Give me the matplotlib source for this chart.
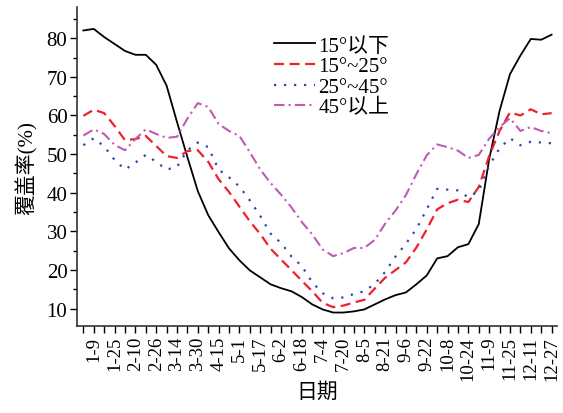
import numpy as np
import matplotlib
matplotlib.use('Agg')
import matplotlib.pyplot as plt
from matplotlib.ticker import MultipleLocator

plt.rcParams['font.family'] = ['Liberation Serif', 'Noto Sans CJK SC']
plt.rcParams['mathtext.fontset'] = 'stix'

# 8-day composite dates
dates = ['1-1', '1-9', '1-17', '1-25', '2-2', '2-10', '2-18', '2-26', '3-6', '3-14',
         '3-22', '3-30', '4-7', '4-15', '4-23', '5-1', '5-9', '5-17', '5-25', '6-2',
         '6-10', '6-18', '6-26', '7-4', '7-12', '7-20', '7-28', '8-5', '8-13', '8-21',
         '8-29', '9-6', '9-14', '9-22', '9-30', '10-8', '10-16', '10-24', '11-1', '11-9',
         '11-17', '11-25', '12-3', '12-11', '12-19', '12-27']

below15 = [82.0, 82.4, 80.3, 78.5, 76.7, 75.7, 75.7, 73.1, 67.7, 58.3,
           49.2, 40.4, 34.2, 29.8, 25.6, 22.5, 19.9, 18.1, 16.3, 15.3,
           14.5, 13.0, 11.1, 9.8, 9.0, 9.0, 9.3, 9.8, 11.1, 12.4,
           13.5, 14.2, 16.3, 18.6, 23.0, 23.6, 25.9, 26.7, 31.9, 48.7,
           61.2, 70.7, 75.5, 79.8, 79.6, 80.9]

s15_25 = [59.9, 61.5, 60.6, 57.3, 53.6, 53.9, 54.7, 52.1, 49.5, 49.0,
          50.8, 51.0, 48.0, 43.5, 40.2, 36.4, 32.6, 29.3, 25.5, 22.7,
          20.0, 17.2, 14.5, 11.5, 10.4, 10.8, 11.6, 12.3, 15.2, 18.0,
          20.0, 22.0, 25.8, 30.5, 35.7, 37.3, 38.2, 37.6, 41.5, 49.5,
          56.0, 60.8, 60.0, 61.6, 60.3, 60.6]

s25_45 = [52.3, 54.1, 52.0, 48.5, 46.0, 47.8, 49.8, 48.0, 46.0, 46.7,
          51.0, 53.0, 51.8, 46.0, 44.0, 41.6, 38.0, 34.0, 29.4, 27.0,
          23.5, 21.0, 16.8, 14.0, 12.7, 12.9, 13.8, 14.5, 16.4, 19.5,
          23.5, 26.8, 30.6, 35.7, 41.0, 40.8, 40.6, 38.8, 40.5, 47.0,
          51.5, 54.1, 52.3, 53.2, 53.0, 52.8]

above45 = [54.8, 56.4, 55.2, 52.4, 51.0, 53.9, 56.4, 55.2, 54.2, 54.5,
           59.2, 63.2, 62.2, 57.8, 56.0, 54.7, 50.5, 46.0, 42.5, 39.5,
           36.2, 32.4, 29.2, 25.3, 23.6, 24.4, 25.7, 25.7, 27.8, 32.0,
           35.4, 39.4, 44.8, 49.7, 52.5, 51.8, 50.9, 49.0, 49.8, 54.0,
           57.0, 59.3, 56.0, 57.0, 56.0, 55.4]

labels = ['15°以下', '15°~25°', '25°~45°', '45°以上']

x = np.arange(len(dates))

fig = plt.figure(figsize=(5.63, 4.14), dpi=100)
ax = fig.add_axes([0.137, 0.21, 0.852, 0.77])

ax.plot(x, below15, color='black', lw=1.3, label=labels[0])
ax.plot(x, s15_25, color='#f0202e', lw=1.6, dashes=(4.5, 2.5), label=labels[1])
ax.plot(x, s25_45, color='#3344aa', lw=1.6, dashes=(1, 3.5), label=labels[2])
ax.plot(x, above45, color='#c05ab4', lw=1.5, dashes=(5, 2, 1, 2), label=labels[3])

ax.set_xlim(-0.6, 45.5)
ax.set_ylim(5.5, 88)
ax.set_xticks(x)
ax.set_xticklabels([d if i % 2 == 1 else '' for i, d in enumerate(dates)],
                   rotation=90, fontsize=13.5)
ax.yaxis.set_major_locator(MultipleLocator(10))
ax.yaxis.set_minor_locator(MultipleLocator(5))
ax.set_yticks([10, 20, 30, 40, 50, 60, 70, 80])
ax.tick_params(axis='y', labelsize=15, length=5, width=1, pad=2)
ax.tick_params(axis='y', which='minor', length=3, width=1)
ax.tick_params(axis='x', length=5, width=1, pad=2)

for s in ['top', 'right']:
    ax.spines[s].set_visible(False)
for s in ['left', 'bottom']:
    ax.spines[s].set_linewidth(1.2)
    ax.spines[s].set_color('#333333')

ax.set_ylabel('覆盖率(%)', fontsize=15, labelpad=6)
ax.set_xlabel('日期', fontsize=15, labelpad=2)

ax.legend(loc='upper left', bbox_to_anchor=(0.41, 0.91), frameon=False,
          fontsize=15, handlelength=2.0, handletextpad=0.15,
          labelspacing=0.05, borderaxespad=0.0, borderpad=0.0)

fig.savefig('out.png', dpi=100)
